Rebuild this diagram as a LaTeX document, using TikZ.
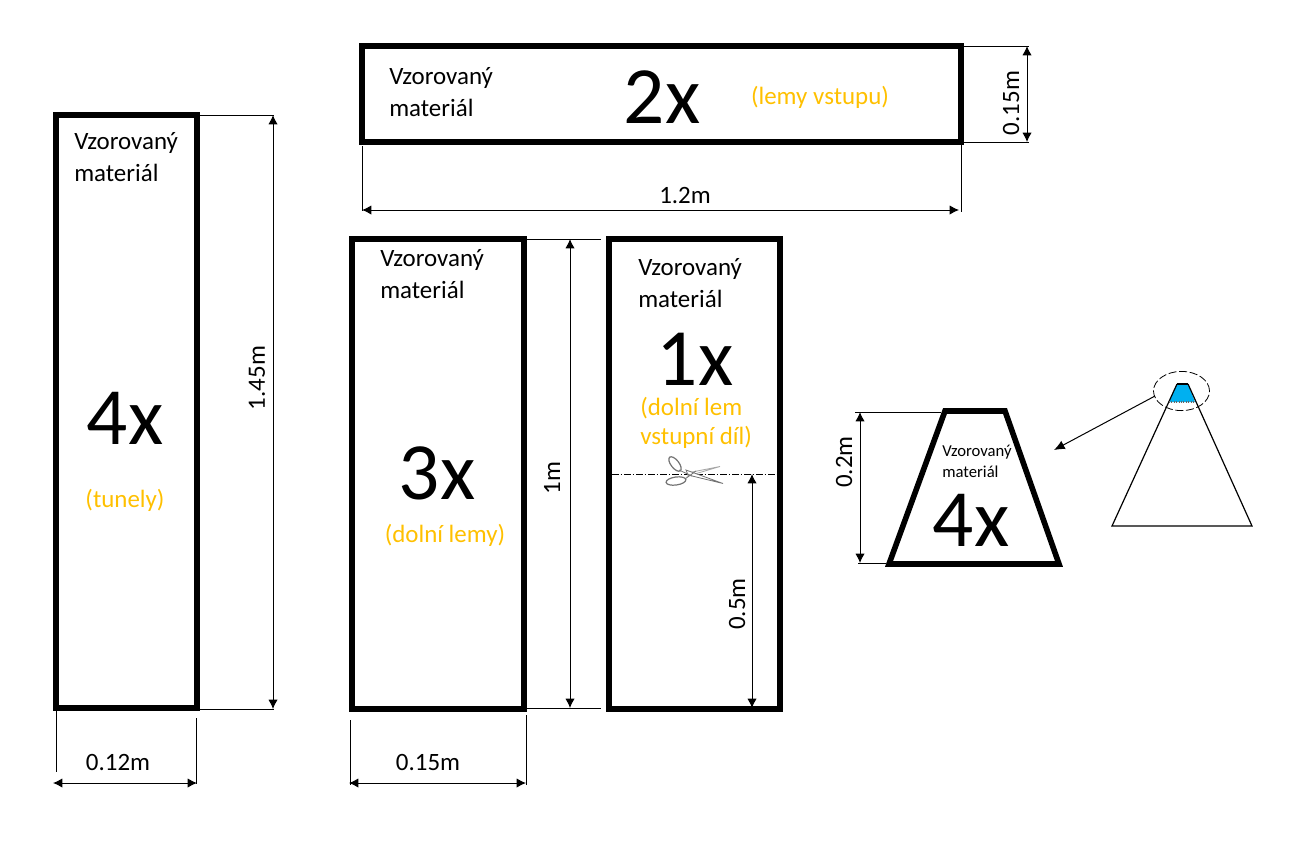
\documentclass[tikz,border=0pt]{standalone}
\usepackage{fontspec}
\setmainfont{Carlito}
\usetikzlibrary{arrows.meta}
\definecolor{lab}{HTML}{FFC000}
\definecolor{blu}{HTML}{00B0F0}
\tikzset{
 x=0.75pt,y=-0.75pt,
 sheet/.style={draw=black,line width=4.2pt,miter limit=10},
 ext/.style={draw=black,line width=0.75pt},
 dimline/.style={draw=black,line width=0.75pt,{Latex[length=7pt,width=7pt]}-{Latex[length=7pt,width=7pt]}},
 ptr/.style={draw=black,line width=0.75pt,-{Latex[length=8pt,width=7pt]}},
 mat/.style={font=\fontsize{18.7}{18.7}\selectfont,inner sep=0pt,anchor=west},
 matsm/.style={font=\fontsize{12.5}{12.5}\selectfont,inner sep=0pt,anchor=west},
 big/.style={font=\fontsize{61}{61}\selectfont,inner sep=0pt},
 note/.style={font=\fontsize{18.7}{18.7}\selectfont,inner sep=0pt,text=lab},
 meas/.style={font=\fontsize{18.7}{18.7}\selectfont,inner sep=0pt},
 sciss/.style={draw=black!55,line width=0.6pt,fill=white},
}
\begin{document}
\begin{tikzpicture}
\useasboundingbox (0,0) rectangle (1314,843);
% sheets
\draw[sheet] (56,115) rectangle (197,708);
\draw[sheet] (362,46) rectangle (961,142);
\draw[sheet] (352,239) rectangle (524,709);
\draw[sheet] (609,239) rectangle (780,709);
\draw[sheet] (945,411) -- (1005,411) -- (1059,564) -- (889,564) -- cycle;
% cut line
\coordinate (cutL) at (612,474); \coordinate (cutR) at (777,474);
\draw[ext,dash pattern=on 5pt off 1.5pt on 1pt off 1.5pt] (cutL) -- (cutR);
% scissors
\draw[sciss,draw=black!35] (688,476) -- (720,466.5) -- (692,472) -- cycle;
\draw[sciss] (686,470) -- (723,483.5) -- (688,475) -- cycle;
\draw[sciss,line width=0.9pt,rotate around={-52:(675,464)}] (675,464) ellipse (6.5pt and 3pt);
\draw[sciss,line width=0.9pt,rotate around={8:(676,481)}] (676,481) ellipse (7.5pt and 3pt);
\draw[sciss] (679,470) -- (692,476);
\draw[sciss] (685,479) -- (696,471);
% extension lines and dimensions, 4x
\coordinate (a1) at (197,115); \coordinate (a2) at (274,115);
\coordinate (a3) at (197,709); \coordinate (a4) at (274,709);
\draw[ext] (a1)--(a2) (a3)--(a4);
\coordinate (a5) at (273,115); \coordinate (a6) at (273,709);
\draw[dimline] (a5)--(a6);
\coordinate (b1) at (56,708); \coordinate (b2) at (56,772);
\coordinate (b3) at (196,718); \coordinate (b4) at (196,784);
\draw[ext] (b1)--(b2) (b3)--(b4);
\coordinate (b5) at (53,783); \coordinate (b6) at (197,783);
\draw[dimline] (b5)--(b6);
% 2x
\coordinate (c1) at (362,146); \coordinate (c2) at (362,211);
\coordinate (c3) at (961,144); \coordinate (c4) at (961,212);
\draw[ext] (c1)--(c2) (c3)--(c4);
\coordinate (c5) at (362,210); \coordinate (c6) at (959,210);
\draw[dimline] (c5)--(c6);
\coordinate (d1) at (961,46); \coordinate (d2) at (1029,46);
\coordinate (d3) at (961,142); \coordinate (d4) at (1029,142);
\draw[ext] (d1)--(d2) (d3)--(d4);
\coordinate (d5) at (1027,46); \coordinate (d6) at (1027,142);
\draw[dimline] (d5)--(d6);
% 3x
\coordinate (e1) at (527,239); \coordinate (e2) at (601,239);
\coordinate (e3) at (527,708); \coordinate (e4) at (601,708);
\draw[ext] (e1)--(e2) (e3)--(e4);
\coordinate (e5) at (570,239); \coordinate (e6) at (570,708);
\draw[dimline] (e5)--(e6);
\coordinate (f1) at (350,720); \coordinate (f2) at (350,785);
\coordinate (f3) at (526,715); \coordinate (f4) at (526,785);
\draw[ext] (f1)--(f2) (f3)--(f4);
\coordinate (f5) at (349,783); \coordinate (f6) at (526,783);
\draw[dimline] (f5)--(f6);
% 1x
\coordinate (g1) at (752,474); \coordinate (g2) at (752,708);
\draw[dimline] (g1)--(g2);
% trapezoid
\coordinate (h1) at (855,412); \coordinate (h2) at (941,412);
\coordinate (h3) at (858,563); \coordinate (h4) at (886,563);
\draw[ext] (h1)--(h2) (h3)--(h4);
\coordinate (h5) at (860,412); \coordinate (h6) at (860,563);
\draw[dimline] (h5)--(h6);
% cone
\fill[blu] (1177,384) -- (1188,384) -- (1195,402) -- (1169,402) -- cycle;
\draw[line width=0.9pt,black] (1177,384) -- (1112,526) -- (1252,526) -- (1188,384);
\draw[line width=1.1pt,black] (1177,384) -- (1188,384);
\draw[line width=0.8pt,black!60,densely dotted] (1169,402) -- (1195,402);
\draw[draw=black,line width=0.6pt,dash pattern=on 6pt off 2pt] (1181.5,391) ellipse (21pt and 14.7pt);
\coordinate (p1) at (1155,396); \coordinate (p2) at (1054,450);
\draw[ptr] (p1)--(p2);
% text
\node[mat] (t1) at (74,143) {Vzorovaný};
\node[mat] (t1b) at (74,173) {materiál};
\node[mat] (t2) at (389,78) {Vzorovaný};
\node[mat] (t2b) at (389,108) {materiál};
\node[mat] (t3) at (380,260) {Vzorovaný};
\node[mat] (t3b) at (380,290) {materiál};
\node[mat] (t4) at (638,269) {Vzorovaný};
\node[mat] (t4b) at (638,299) {materiál};
\node[matsm] (t5) at (942,452) {Vzorovaný};
\node[matsm] (t5b) at (942,472) {materiál};
\node[big] (n1) at (125,418) {4x};
\node[big] (n2) at (662,97) {2x};
\node[big] (n3) at (437,473) {3x};
\node[big] (n4) at (695,359) {1x};
\node[big] (n5) at (971,520) {4x};
\node[note] (o1) at (125,500) {(tunely)};
\node[note] (o2) at (820,97) {(lemy vstupu)};
\node[note] (o3) at (445,535) {(dolní lemy)};
\node[note,anchor=west] (o4) at (640,408) {(dolní lem};
\node[note,anchor=west] (o5) at (640,437) {vstupní díl)};
\node[meas] (m1) at (118,762) {0.12m};
\node[meas] (m2) at (428,762) {0.15m};
\node[meas] (m3) at (685,196) {1.2m};
\node[meas,rotate=90] (m4) at (257,378) {1.45m};
\node[meas,rotate=90] (m5) at (1011,103) {0.15m};
\node[meas,rotate=90] (m6) at (552,478) {1m};
\node[meas,rotate=90] (m7) at (737,604) {0.5m};
\node[meas,rotate=90] (m8) at (844,462) {0.2m};
\end{tikzpicture}
\end{document}
